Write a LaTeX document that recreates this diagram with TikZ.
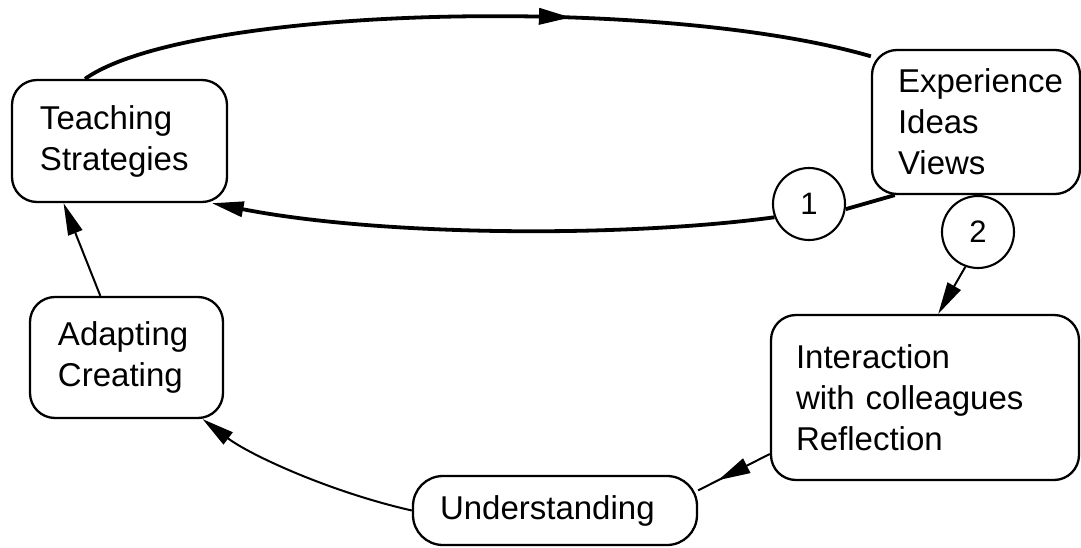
\documentclass[tikz,border=0pt]{standalone}
\usepackage{fontspec}
\setmainfont{Liberation Sans}
\usetikzlibrary{arrows.meta,decorations.markings}

\begin{document}
\begin{tikzpicture}[x=1pt,y=-1pt,
  box/.style={draw, rounded corners=25pt, line width=2.3pt, inner sep=0pt,
    align=left, font=\fontsize{33}{41}\selectfont},
  num/.style={draw, circle, line width=2.1pt, minimum size=72pt, inner sep=0pt,
    font=\fontsize{31}{31}\selectfont},
  link/.style={line width=2pt},
  heavy/.style={line width=3.8pt},
  tip/.style={-{Triangle[length=32pt,width=15pt]}},
  midtip/.style={postaction={decorate, decoration={markings,
    mark=at position #1 with {\arrow{Triangle[length=32pt,width=16pt]}}}}},
]
\useasboundingbox (0,0) rectangle (1081,548);

% the five stages of the cycle
\node[box, text width=215pt, minimum height=122pt] (teach) at (119.5,141)
  {\leftskip=28pt Teaching\\Strategies\par};
\node[box, text width=208pt, minimum height=144pt] (exper) at (976,122)
  {\leftskip=26pt Experience\\Ideas\\Views\par};
\node[box, text width=193pt, minimum height=121pt] (adapt) at (126.5,357.5)
  {\leftskip=28pt Adapting\\Creating\par};
\node[box, text width=308pt, minimum height=165pt] (inter) at (925,397.5)
  {\leftskip=25pt Interaction\\with colleagues\\Reflection\par};
\node[box, rounded corners=30pt, text width=284pt, minimum height=69pt] (under) at (555,510.5)
  {\leftskip=27pt Understanding\par};

% numbered routes
\node[num] (c1) at (809,204) {1};
\node[num] (c2) at (978,232) {2};

% outer loop over the top
\draw[heavy, midtip=0.62] (teach.119.5) .. controls (190,5) and (660,-5) .. (exper.148.5);

% route 1: straight back to teaching strategies
\draw[heavy] (exper.-138) -- (c1.-8);
\draw[heavy, tip] (c1.201) .. controls (620,238) and (380,236) .. (teach.-34.6);

% route 2: through reflection and understanding
\draw[link, tip] (c2.-110) -- (inter.81.3);
\draw[link, midtip=0.72] (inter.200.4) -- (under.8.9);
\draw[link, tip] (under.west) .. controls (330,492) and (250,455) .. (adapt.-39.5);
\draw[link, tip] (adapt.113.7) -- (teach.-132.8);
\end{tikzpicture}
\end{document}
